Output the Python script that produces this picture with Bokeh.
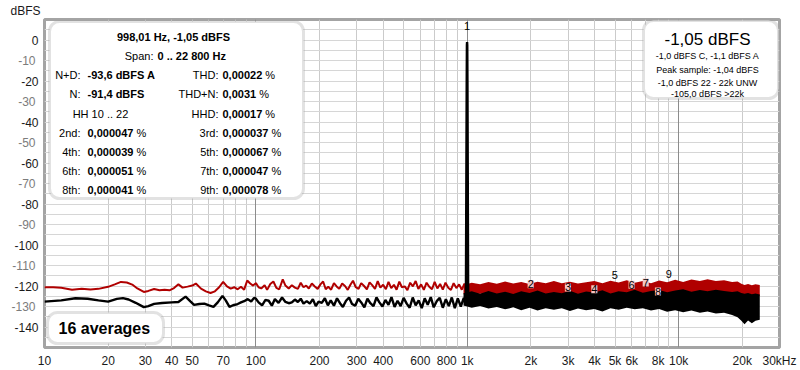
from bokeh.plotting import figure
from bokeh.models import (Range1d, FixedTicker, Grid, Label, LabelSet, LinearAxis,
                          BoxAnnotation, ColumnDataSource)
from bokeh.core.properties import value
from bokeh.embed import file_html
from bokeh.resources import INLINE

FONT = "Liberation Sans"

# ---------------- data ----------------
red_f = [10, 11, 12, 13.5, 15, 16.5, 18, 20, 21.5, 23,
         24.5, 26, 27.5, 29.5, 31, 33, 35, 37, 39, 41,
         43, 45, 47.5, 50, 52, 55, 58, 61, 64, 67,
         70, 73, 76, 79, 82, 85, 88, 91, 94, 97,
         100, 103, 106, 110, 113, 117, 121, 125, 129, 134,
         138, 143, 148, 153, 158, 163, 168, 173, 178, 184,
         190, 196, 202, 208, 214, 220, 227, 234, 241, 248,
         256, 264, 272, 280, 288, 297, 306, 315, 325, 335,
         345, 355, 366, 377, 388, 400, 412, 424, 437, 450,
         463, 477, 491, 506, 521, 537, 553, 570, 587, 605,
         623, 642, 661, 681, 701, 722, 744, 766, 789, 813,
         837, 862, 888, 915, 942, 970, 990]
red_db = [-120.6, -120.6, -120.9, -121.8, -121.3, -121.7, -121.4, -120.4, -119.2, -118.0,
          -118.3, -119.3, -121.2, -122.9, -122.4, -121.5, -122.1, -121.8, -122.1, -121.0,
          -119.2, -120.8, -120.3, -119.8, -118.8, -121.3, -122.6, -123.4, -122.6, -120.6,
          -118.0, -120.2, -121.3, -120.6, -121.6, -120.4, -121.8, -117.3, -118.8, -119.8,
          -118.6, -120.6, -121.2, -119.6, -121.9, -119.0, -117.8, -120.9, -121.6, -116.8,
          -119.8, -121.2, -119.6, -120.8, -121.4, -118.4, -120.6, -119.8, -121.2, -118.8,
          -120.2, -121.4, -119.2, -117.8, -121.6, -120.4, -121.8, -118.6, -120.2, -121.4,
          -118.8, -120.0, -121.9, -119.4, -117.4, -120.6, -121.4, -118.6, -120.0, -121.6,
          -118.2, -119.6, -121.4, -117.6, -120.8, -119.4, -121.6, -118.0, -121.0, -119.4,
          -121.8, -117.9, -120.6, -120.2, -122.0, -118.4, -120.2, -117.6, -121.4, -119.2,
          -121.9, -118.4, -120.4, -121.6, -118.0, -121.2, -119.0, -121.8, -118.4, -120.8,
          -121.9, -118.6, -121.0, -119.2, -121.8, -118.8, -121.5]

black_f = [10, 12, 14, 16, 18, 20, 22, 23.5, 25, 27,
           29.5, 31, 33, 36, 40, 43, 46.5, 49, 51, 54,
           57, 60, 63, 66, 69.5, 72, 75, 78, 82, 85,
           88, 91.5, 95, 98, 100, 103, 107, 111, 115, 119,
           123, 128, 133, 138, 143, 148, 153, 158, 163, 168,
           174, 180, 186, 192, 198, 205, 212, 219, 226, 234,
           242, 250, 258, 267, 276, 285, 295, 305, 315, 326,
           337, 348, 360, 372, 384, 397, 410, 424, 438, 453,
           468, 484, 500, 517, 534, 552, 570, 589, 609, 629,
           650, 672, 694, 717, 741, 766, 792, 818, 845, 873,
           902, 932, 963, 985, 994, 996, 998, 1000, 1002, 1010]
black_db = [-127.6, -127.0, -126.0, -126.2, -127.0, -127.6, -126.3, -125.9, -126.6, -128.2,
            -130.3, -129.8, -128.7, -128.3, -128.0, -127.8, -125.2, -127.5, -129.2, -128.8,
            -128.6, -129.5, -130.2, -128.0, -124.8, -127.0, -130.2, -129.4, -128.8, -128.0,
            -127.4, -126.4, -127.6, -125.8, -126.2, -128.0, -129.4, -126.8, -127.2, -129.6,
            -126.4, -128.2, -125.6, -127.8, -128.4, -128.0, -126.6, -127.8, -126.2, -128.6,
            -127.4, -128.6, -126.4, -129.8, -127.6, -128.2, -126.0, -129.4, -127.0, -129.6,
            -126.0, -128.4, -130.2, -127.2, -125.6, -128.8, -129.6, -126.2, -128.0, -130.4,
            -126.2, -128.4, -129.8, -125.6, -128.0, -130.0, -126.8, -129.2, -125.4, -130.2,
            -127.2, -129.8, -125.8, -128.6, -130.6, -125.6, -129.4, -127.0, -130.8, -126.0,
            -129.2, -125.4, -130.4, -127.4, -125.8, -130.6, -126.4, -129.8, -125.6, -130.8,
            -126.0, -130.0, -125.8, -129.5, -20.0, -2.5, -1.05, -2.5, -20.0, -126.0]

band_f = [960, 1050, 1150, 1260, 1380, 1510, 1650, 1800, 1970, 2150,
          2350, 2570, 2800, 3060, 3340, 3650, 3990, 4360, 4760, 5200,
          5680, 6200, 6770, 7400, 8080, 8820, 9630, 10500, 11500, 12600,
          13700, 15000, 16400, 17900, 19000, 19800, 20500, 21300, 22200, 23100, 24200]
red_top = [-119.5, -118.4, -119.2, -118.0, -118.9, -117.8, -118.8, -118.1, -119.0, -117.9,
           -118.6, -117.6, -118.7, -117.9, -118.8, -118.2, -117.6, -118.7, -117.4, -118.3,
           -117.2, -118.4, -117.6, -118.6, -117.3, -118.2, -117.0, -118.0, -116.8, -117.6,
           -116.7, -117.5, -117.2, -118.0, -117.8, -118.9, -119.5, -119.0, -119.6, -119.2, -119.5]
red_bot = [-124.0, -124.2, -123.8, -124.1, -123.9, -124.2, -124.0, -123.8, -124.1, -124.0,
           -123.9, -124.2, -124.0, -123.8, -124.1, -124.0, -123.9, -124.2, -124.0, -123.8,
           -124.1, -124.0, -123.9, -124.2, -124.0, -123.8, -124.1, -124.0, -123.9, -124.2,
           -124.0, -123.8, -124.1, -124.0, -124.2, -124.5, -124.8, -124.6, -124.9, -124.7, -124.8]
blk_top = [-123.5, -122.6, -123.8, -122.4, -123.6, -122.8, -123.9, -122.5, -123.4, -122.2,
           -123.7, -122.9, -123.5, -122.3, -123.8, -122.7, -123.2, -122.1, -123.6, -122.5,
           -123.0, -121.8, -123.3, -122.4, -121.9, -123.0, -122.2, -121.6, -122.8, -121.9,
           -122.6, -121.8, -122.4, -122.9, -122.6, -123.4, -123.8, -123.4, -124.0, -123.6, -124.2]
blk_bot = [-129.5, -130.6, -129.8, -131.0, -130.2, -131.4, -130.4, -131.8, -130.6, -132.0,
           -130.8, -131.6, -130.9, -132.2, -131.0, -131.8, -131.2, -132.4, -130.8, -131.6,
           -130.6, -131.4, -130.9, -132.0, -131.2, -132.6, -131.8, -132.8, -132.0, -133.0,
           -132.4, -133.4, -133.0, -134.2, -135.2, -137.0, -138.6, -136.8, -138.2, -137.0, -136.5]

harm_f = [998, 1996, 2994, 3992, 4990, 5988, 6986, 7984, 8982]
harm_txt = ["1", "2", "3", "4", "5", "6", "7", "8", "9"]
harm_lvl = [6.6, -119.1, -120.7, -121.6, -114.5, -119.4, -118.3, -122.7, -114.0]
harm_boxed = [False, True, True, True, False, True, True, True, False]

x_ticks = [10, 20, 30, 40, 50, 70, 100, 200, 300, 400, 600, 800, 1000,
           2000, 3000, 4000, 5000, 6000, 8000, 10000, 20000, 30000]
x_labels = ["10", "20", "30", "40", "50", "70", "100", "200", "300", "400", "600", "800", "1k",
            "2k", "3k", "4k", "5k", "6k", "8k", "10k", "20k", "30kHz"]
y_ticks = [0, -10, -20, -30, -40, -50, -60, -70, -80, -90, -100, -110, -120, -130, -140]

left_lab = ["N+D:", "N:", "", "2nd:", "4th:", "6th:", "8th:"]
left_val = ["-93,6 dBFS A", "-91,4 dBFS", "", "0,000047", "0,000039", "0,000051", "0,000041"]
right_lab = ["THD:", "THD+N:", "HHD:", "3rd:", "5th:", "7th:", "9th:"]
right_val = ["0,00022", "0,0031", "0,00017", "0,000037", "0,000067", "0,000047", "0,000078"]
right_box_lines = ["-1,0 dBFS C, -1,1 dBFS A", "Peak sample: -1,04 dBFS",
                   "-1,0 dBFS 22 - 22k UNW", "-105,0 dBFS >22k"]

# ---------------- figure ----------------
p = figure(frame_width=735, frame_height=328, x_axis_type="log", output_backend="svg",
           toolbar_location=None,
           x_range=Range1d(10, 30000), y_range=Range1d(-150, 10),
           min_border_left=44, min_border_right=21, min_border_top=18, min_border_bottom=20)
p.background_fill_color = "white"
p.border_fill_color = "white"
p.outline_line_color = "#a4a4a4"
p.outline_line_width = 3

# "dBFS" unit caption, top left
p.title.text = "dBFS"
p.title.align = "left"
p.title.offset = -34
p.title.standoff = 3
p.title.text_font = FONT
p.title.text_font_size = "12px"
p.title.text_font_style = "normal"
p.title.text_color = "#1a1a1a"

# grids
minor_grid = [m * 10 ** e for e in (1, 2, 3) for m in range(2, 10)] + [20000]
p.xgrid.ticker = FixedTicker(ticks=minor_grid)
p.xgrid.grid_line_color = "#cbcbcb"
p.ygrid.ticker = FixedTicker(ticks=list(range(-145, 10, 5)))
p.ygrid.grid_line_color = "#d6d6d6"
p.add_layout(Grid(dimension=0, ticker=FixedTicker(ticks=[100, 1000, 10000]),
                  grid_line_color="#8c8c8c"))

# axes
p.xaxis.ticker = FixedTicker(ticks=x_ticks)
p.xaxis.major_label_overrides = dict(zip(x_ticks, x_labels))
p.yaxis.ticker = FixedTicker(ticks=y_ticks)
p.yaxis.major_label_overrides = {t: ("" if t % 20 else str(t)) for t in y_ticks}

# second left axis carrying the grey labels, pulled over the first one
gray_axis = LinearAxis(ticker=FixedTicker(ticks=y_ticks),
                       major_label_overrides={t: (str(t) if t % 20 else "") for t in y_ticks})
p.add_layout(gray_axis, "left")

for ax in (p.xaxis[0], p.yaxis[0], gray_axis):
    ax.axis_line_color = None
    ax.major_tick_line_color = None
    ax.minor_tick_line_color = None
    ax.major_tick_out = 0
    ax.major_tick_in = 0
    ax.minor_tick_out = 0
    ax.minor_tick_in = 0
    ax.major_label_text_font = FONT
    ax.major_label_text_font_size = "12px"
    ax.major_label_text_color = "#1a1a1a"
gray_axis.major_label_text_color = "#7c7c7c"
p.xaxis.major_label_standoff = 6
p.yaxis[0].major_label_standoff = 6
gray_axis.major_label_standoff = -24

# traces
RED = "#b00000"
p.varea(x=band_f, y1=red_bot, y2=red_top, fill_color=RED)
p.line(red_f, red_db, line_color=RED, line_width=2)
p.varea(x=band_f, y1=blk_bot, y2=blk_top, fill_color="black")
p.line(black_f, black_db, line_color="black", line_width=2.4)

# harmonic markers
boxed = ColumnDataSource(dict(x=[f for f, b in zip(harm_f, harm_boxed) if b],
                              y=[l for l, b in zip(harm_lvl, harm_boxed) if b],
                              t=[t for t, b in zip(harm_txt, harm_boxed) if b]))
plain = ColumnDataSource(dict(x=[f for f, b in zip(harm_f, harm_boxed) if not b],
                              y=[l for l, b in zip(harm_lvl, harm_boxed) if not b],
                              t=[t for t, b in zip(harm_txt, harm_boxed) if not b]))
p.add_layout(LabelSet(x="x", y="y", text="t", source=boxed, text_align="center",
                      text_baseline="middle", text_font=value(FONT), text_font_size="11px",
                      text_color="black", background_fill_color="#f2c6c6"))
p.add_layout(LabelSet(x="x", y="y", text="t", source=plain, text_align="center",
                      text_baseline="middle", text_font=value(FONT), text_font_size="11px",
                      text_color="black"))


def box(l, r, b, t):
    p.add_layout(BoxAnnotation(left=l, right=r, bottom=b, top=t,
                               left_units="screen", right_units="screen",
                               bottom_units="screen", top_units="screen",
                               fill_color="white", fill_alpha=1.0,
                               line_color="#a0a0a0", line_width=3, border_radius=10))


def put(text, sx, sy, align="left", bold=False, size="11px"):
    p.add_layout(Label(x=sx, y=sy, x_units="screen", y_units="screen", text=text,
                       text_align=align, text_baseline="middle", text_font=FONT,
                       text_font_size=size, text_font_style="bold" if bold else "normal",
                       text_color="black"))


BOLD_W = {c: 0.556 for c in "0123456789"}
BOLD_W.update({",": 0.278, "-": 0.333, ".": 0.278, " ": 0.278})


def bold_width(s, px=11):
    return sum(BOLD_W.get(c, 0.6) for c in s) * px


PCT = "\u00a0%"

# top-left info box
box(5, 259, 149, 326)
put("998,01 Hz, -1,05 dBFS", 129, 311, "center", True)
put("Span:", 109, 292, "right")
put("0 .. 22 800 Hz", 113, 292, "left", True)
rows_y = [273, 254, 234, 215, 196, 177, 158]
for i, yy in enumerate(rows_y):
    if left_lab[i]:
        put(left_lab[i], 36, yy, "right")
        put(left_val[i], 43, yy, "left", True)
        if left_val[i][0] == "0":
            put(PCT, 43 + bold_width(left_val[i]), yy, "left")
    else:
        put("HH 10 .. 22", 56, yy, "center")
    put(right_lab[i], 174, yy, "right")
    put(right_val[i], 178, yy, "left", True)
    put(PCT, 178 + bold_width(right_val[i]), yy, "left")

# top-right level box
box(599, 734, 249, 327)
put("-1,05 dBFS", 663, 308, "center", False, "17px")
for line, yy in zip(right_box_lines, [292, 278, 265, 254]):
    put(line, 663, yy, "center", False, "9px")

# averages box
box(3, 119, 4, 35)
put("16 averages", 14, 19, "left", True, "16px")

open("out.html", "w").write(file_html(p, INLINE))
